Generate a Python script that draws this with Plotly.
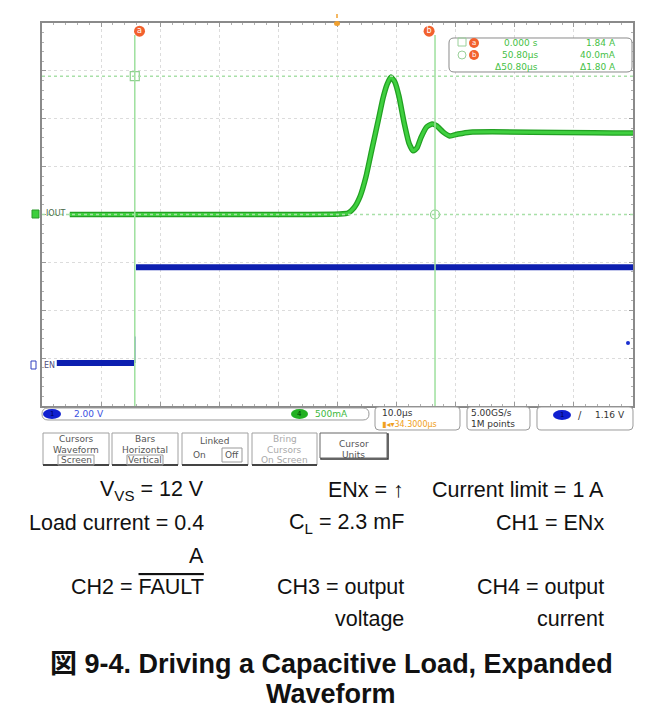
import plotly.graph_objects as go

W, H = 664, 721

# scope screen: 10 us/div across 10 div; vertical axis in screen divisions (8 div)
en_t = [2.5, 15.6, None, 15.9, 100.0]
en_div = [-3.10, -3.10, None, -1.10, -1.10]
en_edge_t = [15.7, 15.7]
en_edge_div = [-3.10, -2.55]

iout_t = [4.7, 50.4, 51.8, 52.8, 53.8, 54.8, 55.8, 56.9, 57.7, 58.4, 59.05, 59.7,
          60.4, 61.25, 62.1, 62.8, 63.45, 64.1, 65.1, 66.0, 66.8, 67.9, 69.0, 70.4,
          72.4, 100.0]
iout_div = [0.0, 0.01, 0.03, 0.14, 0.37, 0.78, 1.35, 1.97, 2.43, 2.72, 2.87, 2.77,
            2.47, 1.93, 1.49, 1.33, 1.39, 1.60, 1.83, 1.89, 1.85, 1.72, 1.64, 1.68,
            1.72, 1.70]

cursor_t = [15.7, 66.5]
cursor_level = [2.89, 0.0]

readout_time = ["0.000 s", "50.80µs", "Δ50.80µs"]
readout_value = ["1.84 A", "40.0mA", "Δ1.80 A"]

button_labels = [["Cursors", "Waveform", "Screen"],
                 ["Bars", "Horizontal", "Vertical"],
                 ["Linked", "On", "Off"],
                 ["Bring", "Cursors", "On Screen"],
                 ["Cursor", "Units"]]

caption_cells = [
    ["V<sub>VS</sub> = 12 V", "ENx = ↑", "Current limit = 1 A"],
    ["Load current = 0.4", "C<sub>L</sub> = 2.3 mF", "CH1 = ENx"],
    ["A", "", ""],
    ["CH2 = <span style='text-decoration:overline'>FAULT</span>", "CH3 = output", "CH4 = output"],
    ["", "voltage", "current"],
]
title_lines = ["<b>図 9-4. Driving a Capacitive Load, Expanded</b>", "<b>Waveform</b>"]


def px(x):
    return x / W


def py(y):
    return 1 - y / H


def rrect(x0, y0, x1, y1, r, line="#9a9a9a", fill="white", width=1):
    p = lambda x, y: f"{px(x):.5f},{py(y):.5f}"
    path = (f"M{p(x0 + r, y0)} L{p(x1 - r, y0)} Q{p(x1, y0)} {p(x1, y0 + r)} "
            f"L{p(x1, y1 - r)} Q{p(x1, y1)} {p(x1 - r, y1)} L{p(x0 + r, y1)} "
            f"Q{p(x0, y1)} {p(x0, y1 - r)} L{p(x0, y0 + r)} Q{p(x0, y0)} {p(x0 + r, y0)} Z")
    return dict(type="path", xref="paper", yref="paper", path=path,
                line=dict(color=line, width=width), fillcolor=fill, layer="above")


def label(x, y, text, size=9, color="#555", anchor="center", bold=False, family="DejaVu Sans"):
    return dict(xref="paper", yref="paper", x=px(x), y=py(y), text=text, showarrow=False,
                xanchor=anchor, yanchor="middle",
                font=dict(size=size, color=color, family=family,
                          weight="bold" if bold else "normal"))


fig = go.Figure()

# cursor lines
for ct in cursor_t:
    fig.add_shape(type="line", xref="x", yref="y", x0=ct, x1=ct, y0=-4, y1=3.75,
                  line=dict(color="#9ee09e", width=1.5))
for cl in cursor_level:
    fig.add_shape(type="line", xref="x", yref="y", x0=0, x1=100, y0=cl, y1=cl,
                  line=dict(color="#a8e0a8", width=1.5, dash="dot"))

fig.add_trace(go.Scatter(x=en_t, y=en_div, mode="lines", line=dict(color="#0d1fb0", width=6),
                         hoverinfo="skip"))
fig.add_trace(go.Scatter(x=en_edge_t, y=en_edge_div, mode="lines",
                         line=dict(color="#0d1fb0", width=1.2), hoverinfo="skip"))
fig.add_trace(go.Scatter(x=iout_t, y=iout_div, mode="lines",
                         line=dict(color="#22a022", width=5.5, shape="spline", smoothing=0.5),
                         hoverinfo="skip"))
fig.add_trace(go.Scatter(x=iout_t, y=iout_div, mode="lines",
                         line=dict(color="#3fd03f", width=3, shape="spline", smoothing=0.5),
                         hoverinfo="skip"))

# cursor markers on the graticule
fig.add_trace(go.Scatter(x=cursor_t, y=cursor_level, mode="markers",
                         marker=dict(symbol=["square-open", "circle-open"], size=9,
                                     color="#8fd08f", line=dict(width=1.2)),
                         hoverinfo="skip"))
fig.add_trace(go.Scatter(x=[cursor_t[0] + 0.8, cursor_t[1] - 1.0], y=[3.83, 3.83],
                         mode="markers+text", text=["a", "b"], textposition="middle center",
                         textfont=dict(size=8, color="white", family="DejaVu Sans"),
                         marker=dict(size=11, color="#f2612e"), hoverinfo="skip"))

fig.update_xaxes(range=[0, 100], domain=[px(42), px(633)], showticklabels=False,
                 showgrid=True, gridcolor="#dcdcdc", griddash="dot", gridwidth=1, dtick=10,
                 zeroline=False, showline=True, linecolor="#8a8a8a", linewidth=1.5,
                 mirror="allticks", ticks="inside", ticklen=4, tickcolor="#9a9a9a",
                 minor=dict(ticks="inside", ticklen=2, dtick=2, tickcolor="#b0b0b0"))
fig.update_yaxes(range=[-4, 4], domain=[py(406), py(23)], showticklabels=False,
                 showgrid=True, gridcolor="#dcdcdc", griddash="dot", gridwidth=1, dtick=1,
                 zeroline=False, showline=True, linecolor="#8a8a8a", linewidth=1.5,
                 mirror="allticks", ticks="inside", ticklen=4, tickcolor="#9a9a9a",
                 minor=dict(ticks="inside", ticklen=2, dtick=0.2, tickcolor="#b0b0b0"))

shapes = []
ann = []

# page frame
shapes.append(dict(type="line", xref="paper", yref="paper", x0=px(1), x1=px(1), y0=0, y1=py(2),
                   line=dict(color="#555", width=2)))
shapes.append(dict(type="line", xref="paper", yref="paper", x0=0, x1=1, y0=py(2), y1=py(2),
                   line=dict(color="#555", width=2)))

# record bar and trigger marks above graticule
shapes.append(dict(type="line", xref="paper", yref="paper", x0=px(197), x1=px(478),
                   y0=py(18), y1=py(18), line=dict(color="#8fdc8f", width=1.5)))
shapes.append(dict(type="rect", xref="paper", yref="paper", x0=px(286), x1=px(292),
                   y0=py(23), y1=py(17), line=dict(width=0), fillcolor="#f0a030"))
shapes.append(dict(type="line", xref="paper", yref="paper", x0=px(337), x1=px(337),
                   y0=py(14), y1=py(18), line=dict(color="#f0a030", width=1.5)))
shapes.append(dict(type="circle", xref="paper", yref="paper", x0=px(334), x1=px(340),
                   y0=py(26), y1=py(21), line=dict(width=0), fillcolor="#f0a030"))

# channel labels at left edge
shapes.append(dict(type="rect", xref="paper", yref="paper", x0=px(32), x1=px(39),
                   y0=py(218), y1=py(210), line=dict(color="#2a9a2a", width=1), fillcolor="#3ccf3c"))
ann.append(label(56, 214, "IOUT", size=8, color="#4a6a4a"))
shapes.append(dict(type="rect", xref="paper", yref="paper", x0=px(31), x1=px(36),
                   y0=py(369), y1=py(361), line=dict(color="#3040c0", width=1), fillcolor="white"))
ann.append(label(49, 365, "EN", size=8, color="#505080"))
shapes.append(dict(type="circle", xref="paper", yref="paper", x0=px(626), x1=px(630),
                   y0=py(345), y1=py(341), line=dict(width=0), fillcolor="#1a2fd0"))

# cursor readout box
shapes.append(rrect(449, 38, 632, 72, 5, line="#8a8a8a"))
row_y = [43, 55, 67]
shapes.append(dict(type="rect", xref="paper", yref="paper", x0=px(458), x1=px(466),
                   y0=py(46), y1=py(38), line=dict(color="#9ad09a", width=1)))
shapes.append(dict(type="circle", xref="paper", yref="paper", x0=px(458), x1=px(466),
                   y0=py(59), y1=py(51), line=dict(color="#9ad09a", width=1)))
for yy, tag in zip(row_y[:2], ["a", "b"]):
    shapes.append(dict(type="circle", xref="paper", yref="paper", x0=px(469), x1=px(479),
                       y0=py(yy + 5), y1=py(yy - 5), line=dict(width=0), fillcolor="#f2612e"))
    ann.append(label(474, yy, tag, size=7, color="white"))
for yy, tt, vv in zip(row_y, readout_time, readout_value):
    ann.append(label(540, yy, tt, size=9, color="#46bf46", anchor="right"))
    ann.append(label(618, yy, vv, size=9, color="#46bf46", anchor="right"))

# status bar
shapes.append(rrect(42, 408, 369, 420, 6))
shapes.append(dict(type="circle", xref="paper", yref="paper", x0=px(43), x1=px(61),
                   y0=py(419), y1=py(409), line=dict(width=0), fillcolor="#1020d0"))
ann.append(label(52, 414, "1", size=7, color="#000050"))
ann.append(label(72, 414, "2.00 V", size=9, color="#3a50e0", anchor="left"))
shapes.append(dict(type="circle", xref="paper", yref="paper", x0=px(291), x1=px(308),
                   y0=py(419), y1=py(409), line=dict(width=0), fillcolor="#22b022"))
ann.append(label(299, 414, "4", size=7, color="#004000"))
ann.append(label(313, 414, "500mA", size=9, color="#3cb83c", anchor="left"))

shapes.append(rrect(375, 407, 460, 430, 4))
ann.append(label(380, 413, "10.0µs", size=9, color="#333", anchor="left"))
ann.append(label(380, 424, "▮◂▾34.3000µs", size=8, color="#f0a020", anchor="left"))
shapes.append(rrect(467, 407, 530, 430, 4))
ann.append(label(469, 413, "5.00GS/s", size=9, color="#333", anchor="left"))
ann.append(label(469, 424, "1M points", size=9, color="#333", anchor="left"))
shapes.append(rrect(537, 407, 633, 430, 4))
shapes.append(dict(type="circle", xref="paper", yref="paper", x0=px(553), x1=px(571),
                   y0=py(420), y1=py(410), line=dict(width=0), fillcolor="#1020d0"))
ann.append(label(562, 415, "1", size=7, color="#000050"))
ann.append(label(580, 415, "/", size=10, color="#333"))
ann.append(label(627, 415, "1.16 V", size=9, color="#333", anchor="right"))

# soft-key buttons
btn_x = [(43, 109), (112, 178), (182, 248), (252, 317), (320, 387)]
for i, ((x0, x1), lines) in enumerate(zip(btn_x, button_labels)):
    cx = (x0 + x1) / 2
    if i == 4:
        shapes.append(dict(type="rect", xref="paper", yref="paper", x0=px(x0 + 1), x1=px(x1 + 1),
                           y0=py(459), y1=py(434), line=dict(color="#333", width=1.5)))
        shapes.append(dict(type="rect", xref="paper", yref="paper", x0=px(x0), x1=px(x1),
                           y0=py(458), y1=py(433), line=dict(color="#666", width=1),
                           fillcolor="white"))
        ann.append(label(cx, 444, lines[0], color="#555"))
        ann.append(label(cx, 455, lines[1], color="#555"))
        continue
    shapes.append(dict(type="rect", xref="paper", yref="paper", x0=px(x0), x1=px(x1),
                       y0=py(465), y1=py(433), line=dict(color="#a0a0a0", width=1)))
    shapes.append(dict(type="line", xref="paper", yref="paper", x0=px(x0), x1=px(x1),
                       y0=py(465), y1=py(465), line=dict(color="#444", width=2)))
    col = "#aaa" if i == 3 else "#555"
    if i == 2:
        ann.append(label(cx, 441, lines[0], color=col))
        ann.append(label(cx - 16, 455, lines[1], color=col))
        ann.append(label(cx + 17, 455, lines[2], color=col))
        shapes.append(dict(type="rect", xref="paper", yref="paper", x0=px(cx + 7), x1=px(cx + 27),
                           y0=py(462), y1=py(448), line=dict(color="#999", width=1)))
        continue
    for txt, yy in zip(lines, [439, 450, 460]):
        ann.append(label(cx, yy, txt, color=col))
    if i in (0, 1):
        shapes.append(dict(type="rect", xref="paper", yref="paper", x0=px(cx - 18), x1=px(cx + 18),
                           y0=py(465), y1=py(455), line=dict(color="#999", width=1)))

# caption table
col_right = [206, 406, 606]
row_mid = [490, 523, 556, 587, 619]
for r, row in enumerate(caption_cells):
    for c, txt in enumerate(row):
        if not txt:
            continue
        ann.append(dict(xref="paper", yref="paper", x=px(col_right[c]), y=py(row_mid[r]),
                        text=txt, showarrow=False, xanchor="right", yanchor="middle",
                        font=dict(size=21.5, color="#111", family="Liberation Sans, Arial")))

for yy, txt in zip([664, 694], title_lines):
    ann.append(dict(xref="paper", yref="paper", x=px(331), y=py(yy), text=txt,
                    showarrow=False, xanchor="center", yanchor="middle",
                    font=dict(size=27, color="#111",
                              family="Liberation Sans, Noto Sans CJK JP, Arial")))

fig.update_layout(width=W, height=H, margin=dict(l=0, r=0, t=0, b=0),
                  paper_bgcolor="white", plot_bgcolor="white", showlegend=False,
                  shapes=shapes, annotations=ann)

fig.write_html("out.html", config={"displayModeBar": False},
               post_script="document.body.style.margin='0';")
